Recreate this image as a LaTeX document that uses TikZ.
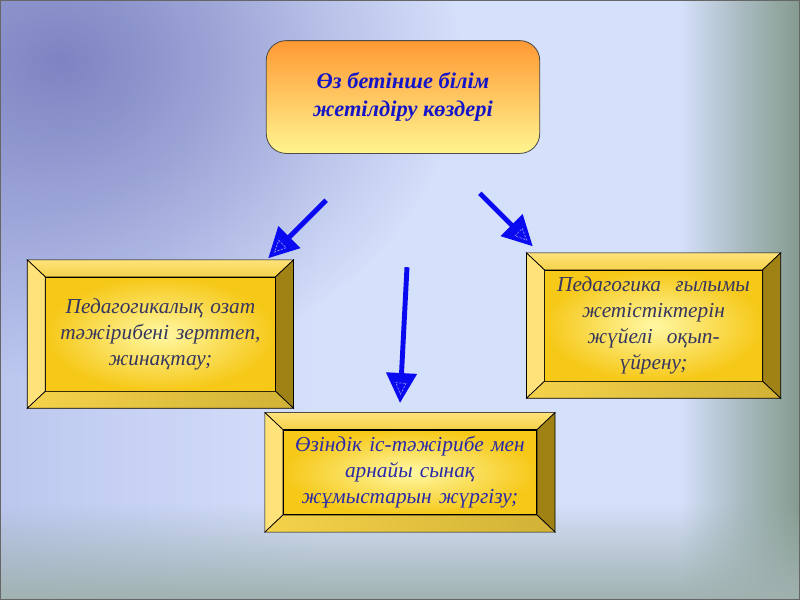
\documentclass[tikz,border=0pt]{standalone}
\usepackage{fontspec}
\setmainfont{Liberation Serif}
\usetikzlibrary{arrows.meta,fadings,decorations.markings}

\definecolor{bgleft}{HTML}{BCC7EF}
\definecolor{bgblue}{HTML}{D5E0FB}
\definecolor{bgmid}{HTML}{AABCC2}
\definecolor{bggreen}{HTML}{859B8F}
\definecolor{bgpurple}{HTML}{7E84C2}
\definecolor{bggrey}{HTML}{A0B2B0}
\definecolor{srctop}{HTML}{FF9933}
\definecolor{srcbot}{HTML}{FFF590}
\definecolor{srctext}{HTML}{1515C8}
\definecolor{facelight}{HTML}{FFF8A4}
\definecolor{facegold}{HTML}{F6C818}
\definecolor{bevlight}{HTML}{FFE27A}
\definecolor{bevtopc}{HTML}{F4D24A}
\definecolor{bevdark}{HTML}{A08214}
\definecolor{bevbot}{HTML}{D2B236}
\definecolor{slate}{HTML}{36365E}
\definecolor{navy}{HTML}{2A2AA8}
\definecolor{arrowblue}{HTML}{0A0AF0}

\pgfdeclarehorizontalshading{bgshade}{100bp}{color(0bp)=(bgleft); color(25bp)=(bgleft);
  color(45bp)=(bgblue); color(67.5bp)=(bgblue); color(71.25bp)=(bgmid);
  color(75bp)=(bggreen); color(100bp)=(bggreen)}
\tikzfading[name=fuzzy, inner color=transparent!0, outer color=transparent!100]
\tikzfading[name=fadedown, top color=transparent!100, bottom color=transparent!0]

% bevelled frame round a face node
\newcommand\bevel[1]{%
  \path (#1.north west) ++(-0.45,0.425) coordinate (#1-nw)
        (#1.north east) ++(0.45,0.425) coordinate (#1-ne)
        (#1.south east) ++(0.45,-0.425) coordinate (#1-se)
        (#1.south west) ++(-0.45,-0.425) coordinate (#1-sw);
  \draw[bevedge, top color=bevlight, bottom color=bevtopc] (#1-nw) -- (#1-ne) -- (#1.north east) -- (#1.north west) -- cycle;
  \draw[bevedge, fill=bevlight] (#1-nw) -- (#1.north west) -- (#1.south west) -- (#1-sw) -- cycle;
  \draw[bevedge, fill=bevdark] (#1-ne) -- (#1-se) -- (#1.south east) -- (#1.north east) -- cycle;
  \draw[bevedge, left color=bevtopc, right color=bevbot] (#1-sw) -- (#1.south west) -- (#1.south east) -- (#1-se) -- cycle;
}

\begin{document}
\begin{tikzpicture}[
    bevedge/.style={draw=black, line width=0.5pt},
    source/.style={rectangle, rounded corners=0.5cm, draw=black!70, line width=0.6pt,
      top color=srctop, bottom color=srcbot, minimum width=6.85cm, minimum height=2.825cm,
      align=center, text=srctext, font=\bfseries\itshape\fontsize{16}{20}\selectfont},
    face/.style={rectangle, draw=black, line width=0.5pt, inner color=facelight, outer color=facegold,
      align=center, inner sep=0pt, text=slate, font=\itshape\fontsize{15.2}{18.5}\selectfont},
    flow/.style={arrowblue, line width=3.5pt, -{Triangle[length=0.75cm, width=0.75cm]},
      postaction={decorate, decoration={markings, mark=at position 1 with
        {\draw[white!55!arrowblue, line width=0.5pt, dash pattern=on 1.5pt off 1pt]
          (-0.5cm,0.13cm) -- (-0.22cm,0) -- (-0.5cm,-0.13cm) -- cycle;}}}}
  ]
  % background
  \shade[shading=bgshade] (0,0) rectangle (20,15);
  \begin{scope}
    \clip (0,0) rectangle (20,15);
    \fill[bgpurple, path fading=fuzzy] (1.5,13.5) ellipse (10cm and 8cm);
  \end{scope}
  \fill[bggrey, path fading=fadedown] (0,0) rectangle (20,2.4);
  \draw[black!60, line width=1pt] (0,0) rectangle (20,15);

  \node[source] (src) at (10.075,12.5875) {Өз бетінше білім\\жетілдіру көздері};

  \node[face, minimum width=5.75cm, minimum height=2.85cm, text width=5.5cm] (left) at (4.0,6.65)
    {Педагогикалық озат\\тәжірибені зерттеп,\\жинақтау;};
  \node[face, minimum width=5.45cm, minimum height=2.775cm, text width=5.3cm] (right) at (16.35,6.8625)
    {Педагогика\ \ ғылымы\\жетістіктерін\\жүйелі\ \ оқып-\\үйрену;};
  \node[face, text=navy, minimum width=6.35cm, minimum height=2.125cm, text width=6.2cm] (bottom) at (10.25,3.1875)
    {Өзіндік іс-тәжірибе мен\\арнайы сынақ\\жұмыстарын жүргізу;};
  \bevel{left}
  \bevel{right}
  \bevel{bottom}

  % arrows from the source
  \coordinate (l1) at (8.15,10.0);
  \coordinate (l2) at (6.7,8.55);
  \coordinate (r1) at (12.0,10.175);
  \coordinate (r2) at (13.325,8.85);
  \coordinate (b1) at (10.175,8.325);
  \coordinate (b2) at (10.0,4.925);
  \draw[flow] (l1) -- (l2);
  \draw[flow] (r1) -- (r2);
  \draw[flow] (b1) -- (b2);
\end{tikzpicture}
\end{document}
